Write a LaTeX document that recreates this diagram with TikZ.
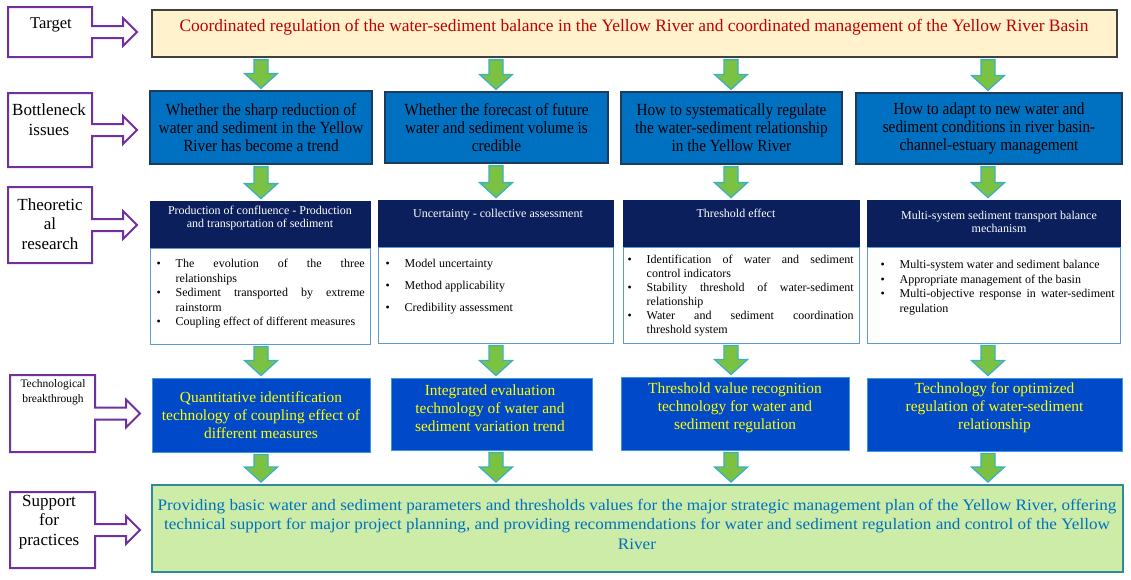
\documentclass[tikz,border=0pt]{standalone}
\usepackage{fontspec}
\setmainfont{Liberation Serif}
\newfontfamily\narrowserif{Liberation Serif}[FakeStretch=0.9]
\newfontfamily\wideserif{Liberation Serif}[FakeStretch=1.07]
\usetikzlibrary{calc}
\definecolor{lblpurple}{HTML}{7030A0}
\definecolor{tgtfill}{HTML}{FFF2CC}
\definecolor{tgtred}{HTML}{C00000}
\definecolor{bnblue}{HTML}{0070C0}
\definecolor{bnedge}{HTML}{1F3B5C}
\definecolor{navy}{HTML}{0A1F5C}
\definecolor{bodyedge}{HTML}{5B9BD5}
\definecolor{techblue}{HTML}{0049C9}
\definecolor{techedge}{HTML}{3C9AD8}
\definecolor{techyellow}{HTML}{FFFF00}
\definecolor{supfill}{HTML}{CCECA8}
\definecolor{supedge}{HTML}{2E8B9A}
\definecolor{suptext}{HTML}{0070C0}
\definecolor{argreen}{HTML}{7CC242}
\definecolor{aredge}{HTML}{3AB0C4}
\newcommand\lblarrow[1]{%
  \draw[lblline] (#1.north west) -- (#1.north east) -- ($(#1.east)+(0,-6)$) -- ($(#1.east)+(31,-6)$) -- ($(#1.east)+(31,-14)$) -- ($(#1.east)+(45,0)$) -- ($(#1.east)+(31,14)$) -- ($(#1.east)+(31,6)$) -- ($(#1.east)+(0,6)$) -- (#1.south east) -- (#1.south west) -- cycle;}
\newcommand\garrow[3]{%
  \draw[gar] let \p1=(#1), \p2=(#2.south), \p3=(#3.north) in
   (\x1-7pt,\y2-2pt) -- (\x1+7pt,\y2-2pt) -- (\x1+7pt,\y3+17pt) -- (\x1+16.5pt,\y3+17pt) -- (\x1,\y3+2pt) -- (\x1-16.5pt,\y3+17pt) -- (\x1-7pt,\y3+17pt) -- cycle;}
\newcommand\bul[1]{\par\noindent\hangindent=20pt\hangafter=1\makebox[20pt][l]{\hspace{1pt}\textbullet}#1\par}
\begin{document}
\begin{tikzpicture}[x=1pt,y=-1pt,
  lblbox/.style={inner sep=0pt, outer sep=0pt},
  lblline/.style={draw=lblpurple, line width=2pt, fill=white, line join=miter},
  lbltext/.style={align=center, inner sep=0pt, font=\fontsize{17}{19.5}\selectfont},
  tgt/.style={draw=black!75, line width=1.2pt, fill=tgtfill, inner sep=0pt},
  bn/.style={draw=bnedge, line width=1.2pt, fill=bnblue, align=center, inner sep=0pt, font=\narrowserif\fontsize{17}{18}\selectfont},
  hd/.style={draw=navy, line width=0.8pt, fill=navy, inner sep=0pt},
  hdtext/.style={text=white, align=center, inner sep=0pt, anchor=north, font=\fontsize{12}{13.5}\selectfont},
  bd/.style={draw=bodyedge, line width=0.9pt, fill=white, inner sep=0pt},
  bdtext/.style={anchor=north west, inner sep=0pt, align=justify, font=\fontsize{12}{14.5}\selectfont},
  tech/.style={draw=techedge, line width=1pt, fill=techblue, inner sep=0pt},
  techtext/.style={text=techyellow, align=center, inner sep=0pt, font=\fontsize{15.4}{18}\selectfont},
  sup/.style={draw=supedge, line width=2pt, fill=supfill, inner sep=0pt},
  gar/.style={draw=aredge, line width=1.3pt, fill=argreen, line join=miter}]
\useasboundingbox (0,0) rectangle (1131,579);
\fill[white] (0,0) rectangle (1131,579);
% column axes
\coordinate (c1) at (261,0);
\coordinate (c2) at (496,0);
\coordinate (c3) at (731,0);
\coordinate (c4) at (988,0);
% left labels
\node[lblbox, minimum width=84pt, minimum height=50pt] (L1) at (50,32) {};
\node[lblbox, minimum width=84pt, minimum height=74pt] (L2) at (50,130) {};
\node[lblbox, minimum width=84pt, minimum height=76pt] (L3) at (50,225) {};
\node[lblbox, minimum width=85pt, minimum height=77pt] (L4) at (52.5,413.5) {};
\node[lblbox, minimum width=85pt, minimum height=76pt] (L5) at (52.5,530) {};
\lblarrow{L1}\lblarrow{L2}\lblarrow{L3}\lblarrow{L4}\lblarrow{L5}
\node[lbltext, font=\fontsize{16.5}{19}\selectfont] (L1t) at (51,25) {Target};
\node[lbltext, font=\fontsize{17}{20}\selectfont] (L2t) at (49,120) {Bottleneck\\issues};
\node[lbltext] (L3t) at (50,224) {Theoretic\\al\\research};
\node[lbltext, font=\fontsize{11.5}{14.5}\selectfont] (L4t) at (53,392) {Technological\\breakthrough};
\node[lbltext] (L5t) at (49,522) {Support\\for\\practices};
% target
\node[tgt, minimum width=965pt, minimum height=47pt] (T) at (634.5,33.5) {};
\node[inner sep=0pt, text=tgtred, font=\fontsize{17.4}{19}\selectfont] (Tt) at (634,27) {Coordinated regulation of the water-sediment balance in the Yellow River and coordinated management of the Yellow River Basin};
% bottleneck issues
\node[bn, minimum width=222pt, minimum height=73pt] (B1) at (261,127.5) {Whether the sharp reduction of\\water and sediment in the Yellow\\River has become a trend};
\node[bn, minimum width=223pt, minimum height=71pt] (B2) at (496.5,127.5) {Whether the forecast of future\\water and sediment volume is\\credible};
\node[bn, minimum width=221pt, minimum height=72pt] (B3) at (731.5,128) {How to systematically regulate\\the water-sediment relationship\\in the Yellow River};
\node[bn, minimum width=266pt, minimum height=71pt] (B4) at (989,128.5) {How to adapt to new water and\\sediment conditions in river basin-\\channel-estuary management};
% theoretical research
\node[hd, minimum width=220pt, minimum height=47pt] (H1) at (260,224.5) {};
\node[bd, minimum width=220pt, minimum height=96pt] (D1) at (260,296) {};
\node[hd, minimum width=235pt, minimum height=47pt] (H2) at (495.5,223.5) {};
\node[bd, minimum width=235pt, minimum height=96pt] (D2) at (495.5,295) {};
\node[hd, minimum width=236pt, minimum height=47pt] (H3) at (741,223.5) {};
\node[bd, minimum width=236pt, minimum height=96pt] (D3) at (741,295) {};
\node[hd, minimum width=253pt, minimum height=47pt] (H4) at (993.5,223.5) {};
\node[bd, minimum width=253pt, minimum height=96pt] (D4) at (993.5,295) {};
\node[hdtext] (H1t) at (260,205.5) {Production of confluence - Production\\and transportation of sediment};
\node[hdtext] (H2t) at (498,208.5) {Uncertainty - collective assessment};
\node[hdtext] (H3t) at (736,208.5) {Threshold effect};
\node[hdtext] (H4t) at (999,210.5) {Multi-system sediment transport balance\\mechanism};
\node[bdtext, text width=209pt] (D1t) at (155.5,253) {%
  \bul{The evolution of the three\linebreak relationships}%
  \bul{Sediment transported by extreme\linebreak rainstorm}%
  \bul{Coupling effect of different measures}};
\node[bdtext, text width=200pt] (D2t) at (384.5,245) {\setlength\parskip{7.5pt}%
  \bul{Model uncertainty}%
  \bul{Method applicability}%
  \bul{Credibility assessment}};
\node[bdtext, text width=227pt, font=\fontsize{12}{14}\selectfont] (D3t) at (626.5,249) {%
  \bul{Identification of water and sediment\linebreak control indicators}%
  \bul{Stability threshold of water-sediment\linebreak relationship}%
  \bul{Water and sediment coordination\linebreak threshold system}};
\node[bdtext, text width=235pt] (D4t) at (879.5,254) {%
  \bul{Multi-system water and sediment balance}%
  \bul{Appropriate management of the basin}%
  \bul{Multi-objective response in water-sediment regulation}};
% technological breakthrough
\node[tech, minimum width=218pt, minimum height=74pt] (K1) at (261,415) {};
\node[tech, minimum width=201pt, minimum height=72pt] (K2) at (491.5,414) {};
\node[tech, minimum width=228pt, minimum height=73pt] (K3) at (735,413.5) {};
\node[tech, minimum width=255pt, minimum height=73pt] (K4) at (994.5,414.5) {};
\node[techtext] (K1t) at (261,415) {Quantitative identification\\technology of coupling effect of\\different measures};
\node[techtext] (K2t) at (490,408) {Integrated evaluation\\technology of water and\\sediment variation trend};
\node[techtext] (K3t) at (735,408) {Threshold value recognition\\technology for water and\\sediment regulation};
\node[techtext] (K4t) at (994.5,408) {Technology for optimized\\regulation of water-sediment\\relationship};
% support for practices
\node[sup, minimum width=971pt, minimum height=87pt] (S) at (637.5,528.5) {};
\node[inner sep=0pt, text=suptext, align=center, font=\wideserif\fontsize{16}{19.5}\selectfont] (St) at (637,524) {Providing basic water and sediment parameters and thresholds values for the major strategic management plan of the Yellow River, offering\\technical support for major project planning, and providing recommendations for water and sediment regulation and control of the Yellow\\River};
% green arrows
\garrow{c1}{T}{B1}\garrow{c2}{T}{B2}\garrow{c3}{T}{B3}\garrow{c4}{T}{B4}
\garrow{c1}{B1}{H1}\garrow{c2}{B2}{H2}\garrow{c3}{B3}{H3}\garrow{c4}{B4}{H4}
\garrow{c1}{D1}{K1}\garrow{c2}{D2}{K2}\garrow{c3}{D3}{K3}\garrow{c4}{D4}{K4}
\garrow{c1}{K1}{S}\garrow{c2}{K2}{S}\garrow{c3}{K3}{S}\garrow{c4}{K4}{S}
\end{tikzpicture}
\end{document}
